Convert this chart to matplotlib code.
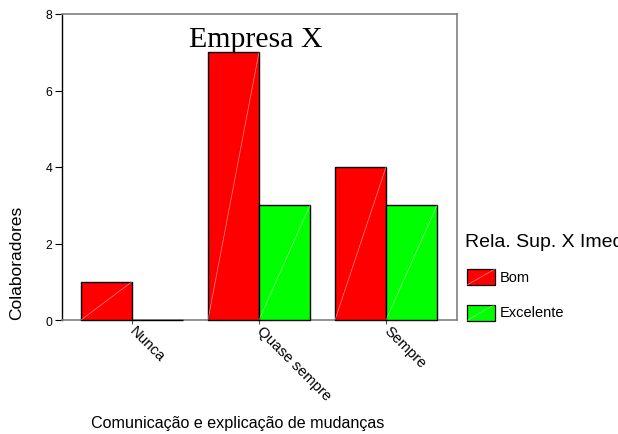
import numpy as np
import matplotlib.pyplot as plt
import matplotlib.transforms as mtransforms
from matplotlib.patches import Rectangle
from matplotlib.lines import Line2D

# contagem de colaboradores por categoria
categorias = ['Nunca', 'Quase sempre', 'Sempre']
bom = [1, 7, 4]
excelente = [0, 3, 3]
series = ['Bom', 'Excelente']
cores = ['#ff0000', '#00ff00']

plt.rcParams['font.family'] = ['Liberation Sans', 'DejaVu Sans']

fig = plt.figure(figsize=(6.18, 4.35), dpi=100)
ax = fig.add_axes([62 / 618, 1 - 321 / 435, 395 / 618, 306 / 435])

x = np.arange(len(categorias))
w = 0.4016

for vals, off, cor in [(bom, -w, cores[0]), (excelente, 0, cores[1])]:
    bars = ax.bar(x + off, vals, width=w, align='edge', color=cor,
                  edgecolor='black', linewidth=1.0, zorder=3, clip_on=False)
    for b in bars:
        x0, h = b.get_x(), b.get_height()
        if h > 0:
            ax.plot([x0, x0 + w], [0, h], color='white', lw=0.5,
                    alpha=0.55, zorder=4)

ax.set_xlim(-0.551, 2.559)
ax.set_ylim(0, 8)
ax.set_yticks([0, 2, 4, 6, 8])
ax.set_xticks(x)
ax.set_xticklabels(categorias, rotation=-45, ha='left', va='center',
                   rotation_mode='anchor', fontsize=10.8)
# empurra os rótulos inclinados um pouco para a direita
desloc = mtransforms.ScaledTranslation(5 / 100, -1 / 100, fig.dpi_scale_trans)
for lbl in ax.get_xticklabels():
    lbl.set_transform(lbl.get_transform() + desloc)
ax.tick_params(axis='y', labelsize=8.8, length=5, width=0.8, pad=2)
ax.tick_params(axis='x', length=3, width=0.8, pad=3, color='#555555')

for s in ['top', 'right', 'bottom']:
    ax.spines[s].set_color('#808080')
    ax.spines[s].set_linewidth(1.2)
ax.spines['left'].set_linewidth(1.0)

ax.text(0.49, 0.918, 'Empresa X', transform=ax.transAxes, ha='center',
        va='center', fontsize=21.5, family='Liberation Serif', zorder=5)

ax.set_ylabel('Colaboradores', fontsize=12.5)
ax.yaxis.set_label_coords(-0.096, 0.19)
fig.text(91 / 618, 1 - 424 / 435, 'Comunicação e explicação de mudanças',
         fontsize=11.6, va='center', ha='left')

# legenda montada à mão
fig.text(465 / 618, 1 - 243 / 435, 'Rela. Sup. X Imediato', fontsize=14,
         va='center', ha='left')
for i, (nome, cor) in enumerate(zip(series, cores)):
    y0 = 1 - (286 + 35.5 * i) / 435
    fw, fh = 28 / 618, 16 / 435
    fig.add_artist(Rectangle((467 / 618, y0), fw, fh, transform=fig.transFigure,
                             facecolor=cor, edgecolor='black', linewidth=0.9))
    fig.add_artist(Line2D([467 / 618, 467 / 618 + fw], [y0, y0 + fh],
                          transform=fig.transFigure, color='white', lw=0.5,
                          alpha=0.55))
    fig.text(500 / 618, y0 + fh / 2, nome, fontsize=10.5, va='center',
             ha='left')

fig.savefig('out.png', dpi=100)
